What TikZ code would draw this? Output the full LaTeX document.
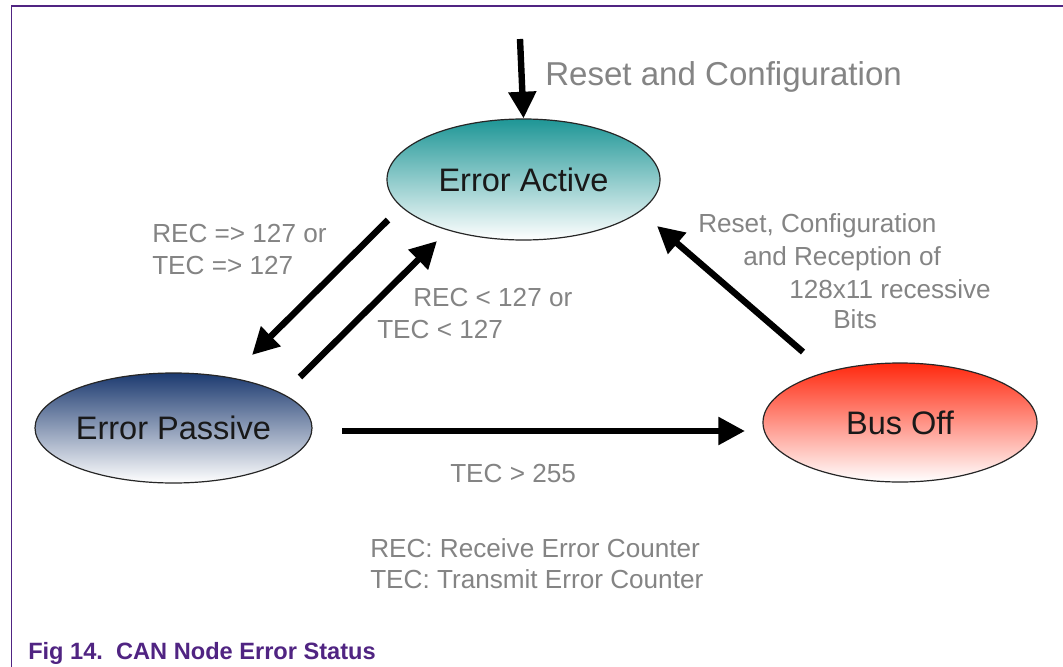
\documentclass[tikz,border=0pt]{standalone}
\usepackage{fontspec}
\setmainfont{Liberation Sans}
\usetikzlibrary{shapes.geometric,arrows.meta}

\definecolor{framepurple}{RGB}{80,36,130}
\definecolor{labelgray}{RGB}{132,132,132}
\definecolor{activetop}{RGB}{30,150,150}
\definecolor{activemid}{RGB}{120,190,190}
\definecolor{passivetop}{RGB}{28,58,112}
\definecolor{passivemid}{RGB}{130,145,170}
\definecolor{busofftop}{RGB}{255,40,14}
\definecolor{busoffmid}{RGB}{250,130,120}

\tikzset{
  state/.style={ellipse, draw=black!85, line width=0.9pt, inner sep=0pt,
    font=\fontsize{24.4}{28}\selectfont, text=black!90},
  lbl/.style={anchor=base west, inner sep=0pt, text=labelgray,
    font=\fontsize{19.6}{23}\selectfont},
  transition/.style={line width=4.8pt, draw=black,
    -{Triangle[length=20pt,width=20pt]}},
}

\begin{document}
\begin{tikzpicture}[x=0.75pt, y=-0.75pt]
  \useasboundingbox (0,0) rectangle (1063,667);

  % page frame
  \fill[white] (0,0) rectangle (1063,667);
  \draw[framepurple, line width=1.2pt] (11.3,667) -- (11.3,6) -- (1063,6);

  % states
  \node[state, minimum width=204.75pt, minimum height=90.75pt,
        top color=activetop, middle color=activemid, bottom color=white]
        (act) at (523.5,179.5) {Error Active};
  \node[state, minimum width=207.75pt, minimum height=82.5pt,
        top color=passivetop, middle color=passivemid, bottom color=white]
        (pas) at (173.5,428) {Error Passive};
  \node[state, minimum width=205.5pt, minimum height=89.25pt,
        top color=busofftop, middle color=busoffmid, bottom color=white]
        (bus) at (900,422.5) {Bus Off};

  % free connector ends
  \coordinate (rst) at (520,39);
  \coordinate (apS) at (388,220);
  \coordinate (apE) at (252,355);
  \coordinate (paS) at (300,377);
  \coordinate (paE) at (437,241);
  \coordinate (pbS) at (342,431);
  \coordinate (pbE) at (745,431);
  \coordinate (baS) at (803,352);
  \coordinate (baE) at (657,226);

  % transitions
  \draw[transition] (rst) -- (act.north);
  \draw[transition] (apS) -- (apE);
  \draw[transition] (paS) -- (paE);
  \draw[transition] (pbS) -- (pbE);
  \draw[transition] (baS) -- (baE);

  % transition labels
  \node[lbl, font=\fontsize{24.8}{28}\selectfont] (lreset) at (545,85) {Reset and Configuration};
  \node[lbl] (lup1) at (152,242) {REC => 127 or};
  \node[lbl] (lup2) at (152,274) {TEC => 127};
  \node[lbl] (ldn1) at (413,306) {REC < 127 or};
  \node[lbl] (ldn2) at (377,338) {TEC < 127};
  \node[lbl] (lbo1) at (698,232) {Reset, Configuration};
  \node[lbl] (lbo2) at (743,265) {and Reception of};
  \node[lbl] (lbo3) at (789,298) {128x11 recessive};
  \node[lbl] (lbo4) at (833,328) {Bits};
  \node[lbl] (ltec) at (450,482) {TEC > 255};
  \node[lbl] (lkey1) at (370,557) {REC: Receive Error Counter};
  \node[lbl] (lkey2) at (370,588) {TEC: Transmit Error Counter};

  % caption
  \node[anchor=base west, inner sep=0pt, text=framepurple,
        font=\fontsize{17.7}{21}\selectfont\bfseries] (cap) at (28,659)
        {Fig 14.\ \ CAN Node Error Status};
\end{tikzpicture}
\end{document}
